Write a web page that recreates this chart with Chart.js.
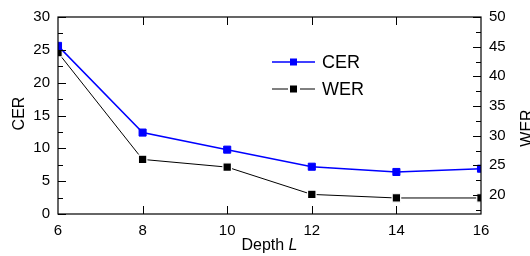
<!DOCTYPE html>
<html>
<head>
<meta charset="utf-8">
<script src="https://cdn.jsdelivr.net/npm/chart.js@4"></script>
<style>
  html, body { margin: 0; padding: 0; background: #fff; }
  #wrap { width: 530px; height: 256px; }
</style>
</head>
<body>
<div id="wrap"><canvas id="depthChart"></canvas></div>
<script>
// depth L vs error rates
const depths = [6, 8, 10, 12, 14, 16];
const cerValues = [25.6, 12.4, 9.8, 7.2, 6.4, 6.9];
const werValues = [44.0, 26.0, 24.7, 20.1, 19.5, 19.5];
const xTicks = [6, 8, 10, 12, 14, 16];
const cerTicks = [0, 5, 10, 15, 20, 25, 30];
const werTicks = [20, 25, 30, 35, 40, 45, 50];

const FONT = "'Liberation Sans', Arial, sans-serif";

// inward tick marks, frame, titles and legend
const decorations = {
  id: "decorations",
  afterDatasetsDraw(chart) {
    const c = chart.ctx;
    const a = chart.chartArea;
    const x = chart.scales.x, yl = chart.scales.y, yr = chart.scales.y2;
    c.save();
    c.strokeStyle = "#000";
    c.lineWidth = 1.2;
    c.strokeRect(a.left, a.top, a.right - a.left, a.bottom - a.top);

    c.lineWidth = 1;
    c.beginPath();
    for (let v = yl.min; v <= yl.max + 0.01; v += 2.5) {
      const p = Math.round(yl.getPixelForValue(v)) + 0.5;
      const len = cerTicks.includes(v) ? 8 : 5;
      c.moveTo(a.left, p); c.lineTo(a.left + len, p);
    }
    for (let v = 17.5; v <= yr.max + 0.01; v += 2.5) {
      const p = Math.round(yr.getPixelForValue(v)) + 0.5;
      const len = werTicks.includes(v) ? 8 : 5;
      c.moveTo(a.right, p); c.lineTo(a.right - len, p);
    }
    xTicks.slice(1, -1).forEach(v => {
      const p = Math.round(x.getPixelForValue(v)) + 0.5;
      c.moveTo(p, a.bottom); c.lineTo(p, a.bottom - 8);
      c.moveTo(p, a.top); c.lineTo(p, a.top + 8);
    });
    c.stroke();

    // axis titles
    c.fillStyle = "#000";
    c.font = "16px " + FONT;
    c.textAlign = "center";
    c.textBaseline = "middle";
    c.save();
    c.translate(20, (a.top + a.bottom) / 2 - 2);
    c.rotate(-Math.PI / 2);
    c.fillText("CER", 0, 0);
    c.restore();
    c.save();
    c.translate(528, 128);
    c.rotate(-Math.PI / 2);
    c.fillText("WER", 0, 0);
    c.restore();

    c.textAlign = "left";
    const t1 = "Depth ";
    const w1 = c.measureText(t1).width;
    c.font = "italic 16px " + FONT;
    const w2 = c.measureText("L").width;
    const sx = (a.left + a.right) / 2 - (w1 + w2) / 2;
    c.font = "16px " + FONT;
    c.fillText(t1, sx, 246);
    c.font = "italic 16px " + FONT;
    c.fillText("L", sx + w1, 246);

    // legend
    c.font = "18px " + FONT;
    chart.data.datasets.forEach((ds, i) => {
      const ly = 62 + i * 27;
      c.strokeStyle = ds.borderColor;
      c.lineWidth = ds.borderWidth;
      c.beginPath();
      c.moveTo(272, ly); c.lineTo(315, ly);
      c.stroke();
      if (i === 1) {
        c.fillStyle = "#fff";
        c.fillRect(288, ly - 4, 12, 8);
      }
      c.fillStyle = ds.pointBackgroundColor;
      c.fillRect(290, ly - 3.5, 7, 7);
      c.fillStyle = "#000";
      c.fillText(ds.label, 322, ly + 1);
    });
    c.restore();
  }
};

new Chart(document.getElementById("depthChart"), {
  type: "line",
  data: {
    datasets: [{
      label: "CER",
      data: depths.map((d, i) => ({ x: d, y: cerValues[i] })),
      yAxisID: "y",
      borderColor: "#0000ff",
      backgroundColor: "#0000ff",
      pointBackgroundColor: "#0000ff",
      pointBorderColor: "#0000ff",
      borderWidth: 1.5,
      pointStyle: "rect",
      pointRadius: 5,
      pointBorderWidth: 1,
      tension: 0
    }, {
      label: "WER",
      data: depths.map((d, i) => ({ x: d, y: werValues[i] })),
      yAxisID: "y2",
      borderColor: "#000",
      backgroundColor: "#000",
      pointBackgroundColor: "#000",
      pointBorderColor: "#fff",
      borderWidth: 1,
      pointStyle: "rect",
      pointRadius: 6,
      pointBorderWidth: 1.2,
      tension: 0
    }]
  },
  options: {
    responsive: true,
    maintainAspectRatio: false,
    animation: false,
    layout: { padding: { top: 15, left: 0, right: 0, bottom: 0 } },
    plugins: {
      legend: { display: false },
      tooltip: { enabled: false }
    },
    scales: {
      x: {
        type: "linear",
        min: 6, max: 16,
        afterFit: s => { s.height = 42; },
        afterBuildTicks: s => { s.ticks = xTicks.map(v => ({ value: v })); },
        grid: { display: false, drawTicks: false },
        border: { display: false },
        ticks: { color: "#000", padding: 8, font: { family: FONT, size: 15 } }
      },
      y: {
        position: "left",
        min: 0, max: 30,
        afterFit: s => { s.width = 58; },
        afterBuildTicks: s => { s.ticks = cerTicks.map(v => ({ value: v })); },
        grid: { display: false, drawTicks: false },
        border: { display: false },
        ticks: { color: "#000", padding: 8, font: { family: FONT, size: 15 } }
      },
      y2: {
        position: "right",
        min: 16.8, max: 50,
        afterFit: s => { s.width = 49; },
        afterBuildTicks: s => { s.ticks = werTicks.map(v => ({ value: v })); },
        grid: { display: false, drawTicks: false },
        border: { display: false },
        ticks: { color: "#000", padding: 8, font: { family: FONT, size: 15 } }
      }
    }
  },
  plugins: [decorations]
});
</script>
</body>
</html>
